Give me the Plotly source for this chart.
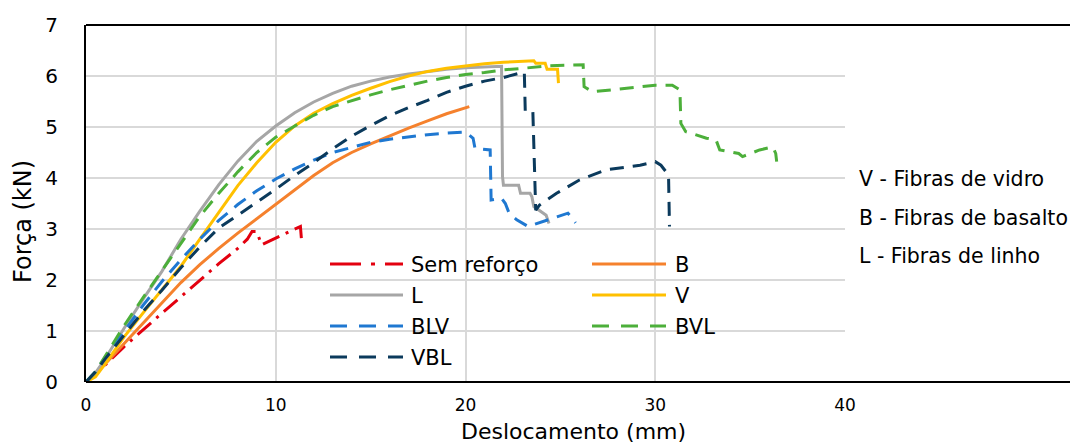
import plotly.graph_objects as go

# ---- data: load (kN) vs displacement (mm) for each reinforcement scheme ----
sem_x = [0, 1, 2, 3, 4, 5, 6, 7, 8, 8.5, 8.75, 9.0, 9.25, 9.6, 10.0, 11.3, 11.35]
sem_y = [0, 0.33, 0.69, 1.03, 1.35, 1.67, 2.0, 2.32, 2.62, 2.8, 2.95, 2.95, 2.69, 2.75, 2.82, 3.05, 2.82]

b_x = [0, 1, 2, 3, 4, 5, 6, 7, 8, 9, 10, 11, 12, 13, 14, 15, 16, 17, 18, 19, 20.2]
b_y = [0, 0.35, 0.75, 1.15, 1.55, 1.95, 2.3, 2.62, 2.92, 3.2, 3.48, 3.77, 4.05, 4.3, 4.5, 4.67, 4.83, 4.98, 5.12, 5.26, 5.4]

l_x = [0, 0.5, 1, 2, 3, 4, 5, 6, 7, 8, 9, 10, 11, 12, 13, 14, 15, 16, 17, 18, 19, 20, 21, 21.9,
       21.95, 22.0, 22.8, 22.9, 23.4, 23.5, 23.6, 24.0, 24.25, 24.4]
l_y = [0, 0.18, 0.45, 1.05, 1.62, 2.17, 2.8, 3.35, 3.87, 4.33, 4.72, 5.02, 5.28, 5.49, 5.66, 5.8, 5.9, 5.98, 6.04, 6.09, 6.13, 6.16, 6.18, 6.19,
       4.03, 3.86, 3.86, 3.7, 3.7, 3.63, 3.44, 3.34, 3.27, 3.11]

v_x = [0, 0.5, 1, 2, 3, 4, 5, 6, 7, 8, 9, 10, 11, 12, 13, 14, 15, 16, 17, 18, 19, 20, 21, 22, 23, 23.6,
       23.7, 24.2, 24.3, 24.85, 24.9]
v_y = [0, 0.1, 0.35, 0.88, 1.35, 1.8, 2.27, 2.8, 3.32, 3.85, 4.3, 4.7, 5.02, 5.27, 5.46, 5.62, 5.76, 5.89, 6.0, 6.09, 6.15, 6.2, 6.24, 6.27, 6.29, 6.3,
       6.25, 6.25, 6.13, 6.13, 5.86]

blv_x = [0, 0.5, 1, 2, 3, 4, 5, 6, 7, 8, 9, 10, 11, 12, 13, 14, 15, 16, 17, 18, 19, 20,
         20.4, 20.5, 21.3, 21.35, 21.9, 22.1, 22.3, 22.7, 23.3, 24.4, 25.4, 25.8]
blv_y = [0, 0.2, 0.48, 1.0, 1.5, 1.97, 2.4, 2.8, 3.17, 3.48, 3.75, 3.98, 4.18, 4.35, 4.5, 4.6, 4.7, 4.76, 4.81, 4.85, 4.88, 4.9,
         4.78, 4.58, 4.55, 3.57, 3.6, 3.5, 3.31, 3.18, 3.05, 3.18, 3.31, 3.12]

bvl_x = [0, 0.5, 1, 2, 3, 4, 5, 6, 7, 8, 9, 10, 11, 12, 13, 14, 15, 16, 17, 18, 19, 20, 21, 22, 23, 24.4, 26.2,
         26.25, 26.7, 28.5, 30.0, 30.9, 31.3, 31.35, 31.6, 32.7, 33.2, 33.4, 34.4, 34.6, 35.5, 36.2, 36.35, 36.4]
bvl_y = [0, 0.2, 0.5, 1.1, 1.65, 2.18, 2.72, 3.25, 3.7, 4.12, 4.5, 4.8, 5.02, 5.23, 5.4, 5.52, 5.63, 5.73, 5.82, 5.9, 5.97, 6.03, 6.07, 6.12, 6.15, 6.2, 6.22,
         5.79, 5.69, 5.76, 5.82, 5.82, 5.73, 5.07, 4.91, 4.78, 4.75, 4.55, 4.48, 4.42, 4.55, 4.61, 4.48, 4.32]

vbl_x = [0, 0.5, 1, 2, 3, 4, 5, 6, 7, 8, 9, 10, 11, 12, 13, 14, 15, 16, 17, 18, 19, 20, 21, 22, 23.0, 23.1,
         23.15, 23.55, 23.7, 23.9, 24.8, 26.0, 27.4, 29.2, 30.0, 30.3, 30.7, 30.75]
vbl_y = [0, 0.2, 0.45, 0.92, 1.38, 1.8, 2.24, 2.65, 3.02, 3.27, 3.52, 3.78, 4.05, 4.3, 4.57, 4.82, 5.03, 5.22, 5.38, 5.52, 5.68, 5.8, 5.9, 5.97, 6.07, 6.08,
         5.3, 5.3, 3.37, 3.47, 3.7, 3.96, 4.16, 4.25, 4.32, 4.25, 4.06, 3.05]

series_names = ["Sem reforço", "B", "L", "V", "BLV", "BVL", "VBL"]
series_x = [sem_x, b_x, l_x, v_x, blv_x, bvl_x, vbl_x]
series_y = [sem_y, b_y, l_y, v_y, blv_y, bvl_y, vbl_y]
series_colors = ["#E3000F", "#F5812D", "#A6A6A6", "#FFC000", "#1F78D1", "#4CAF3A", "#0B3A5C"]
series_dash = ["18px,7px,3px,7px", "solid", "solid", "solid", "14px,9px", "14px,9px", "14px,9px"]
legend_dash = ["31px,10px,4px,10px", "solid", "solid", "solid", "17px,12px", "17px,12px", "17px,12px"]

x_ticks = [0, 10, 20, 30, 40]
y_ticks = [0, 1, 2, 3, 4, 5, 6, 7]

fibre_notes = ["V - Fibras de vidro", "B - Fibras de basalto", "L - Fibras de linho"]

FONT = "DejaVu Sans"

fig = go.Figure()
for name, xs, ys, col, dsh in zip(series_names, series_x, series_y, series_colors, series_dash):
    fig.add_trace(go.Scatter(x=xs, y=ys, mode="lines", name=name,
                             line=dict(color=col, width=3, dash=dsh),
                             showlegend=False))

# plot area geometry in pixels (for layout helpers)
W, H = 1070, 446
ML, MR, MT, MB = 86, 225, 25, 64
PW, PH = W - ML - MR, H - MT - MB


def px(xp):
    return (xp - ML) / PW


def py(yp):
    return (H - MB - yp) / PH


shapes = []
annotations = []

# outer frame lines: top and bottom run across the full width
for yy in (0, 1):
    shapes.append(dict(type="line", xref="paper", yref="paper", x0=0, x1=px(W + 5), y0=yy, y1=yy,
                       line=dict(color="#000000", width=2), layer="above"))

# two-column legend, filled row by row
col_line_x = [(330, 403, 409), (592, 666, 673)]
row_y = [264, 295, 326, 357]
for i, (name, col, dsh) in enumerate(zip(series_names, series_colors, legend_dash)):
    c = i % 2
    r = i // 2
    x0, x1, xt = col_line_x[c]
    yy = row_y[r]
    shapes.append(dict(type="line", xref="paper", yref="paper", x0=px(x0), x1=px(x1), y0=py(yy), y1=py(yy),
                       line=dict(color=col, width=3, dash=dsh), layer="above"))
    annotations.append(dict(text=name, xref="paper", yref="paper", x=px(xt), y=py(yy + 1),
                            xanchor="left", yanchor="middle", showarrow=False,
                            font=dict(family=FONT, size=21, color="#000000")))

# fibre key on the right
for note, yy in zip(fibre_notes, [179, 218, 256]):
    annotations.append(dict(text=note, xref="paper", yref="paper", x=px(857), y=py(yy),
                            xanchor="left", yanchor="middle", showarrow=False,
                            font=dict(family=FONT, size=20.5, color="#000000")))

# axis titles
annotations.append(dict(text="Deslocamento (mm)", xref="paper", yref="paper", x=px(573), y=py(431.5),
                        xanchor="center", yanchor="middle", showarrow=False,
                        font=dict(family=FONT, size=22, color="#000000")))
annotations.append(dict(text="Força (kN)", xref="paper", yref="paper", x=px(23), y=py(221),
                        xanchor="center", yanchor="middle", showarrow=False, textangle=-90,
                        font=dict(family=FONT, size=24, color="#000000")))

fig.update_layout(
    width=W, height=H, autosize=False,
    margin=dict(l=ML, r=MR, t=MT, b=MB, pad=0),
    paper_bgcolor="#FFFFFF", plot_bgcolor="#FFFFFF",
    shapes=shapes, annotations=annotations,
    font=dict(family=FONT, size=20, color="#000000"),
)
fig.update_xaxes(range=[0, 40], tickvals=x_ticks, ticktext=[str(t) for t in x_ticks],
                 showgrid=True, gridcolor="#D9D9D9", gridwidth=2, zeroline=False,
                 showline=False, ticks="", ticklabelstandoff=11,
                 tickfont=dict(family=FONT, size=17, color="#000000"))
fig.update_yaxes(range=[0, 7], tickvals=y_ticks, ticktext=[str(t) for t in y_ticks],
                 showgrid=True, gridcolor="#D9D9D9", gridwidth=2, zeroline=False,
                 showline=True, linecolor="#000000", linewidth=2, ticks="", ticklabelstandoff=22,
                 tickfont=dict(family=FONT, size=20, color="#000000"))

fig.write_html("out.html")
